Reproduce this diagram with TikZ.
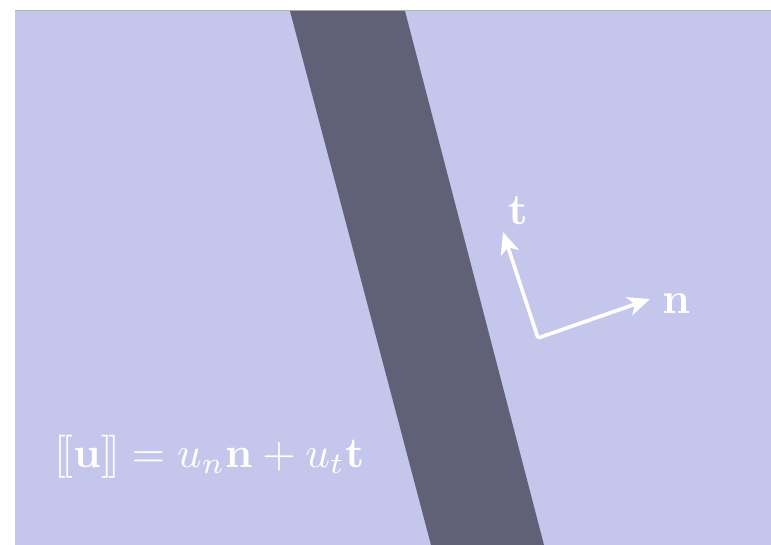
\documentclass[tikz,border=0pt]{standalone}
\usepackage{amsmath}
\usepackage{graphicx}
\usetikzlibrary{arrows.meta}
\definecolor{lav}{HTML}{C5C6EC}
\definecolor{band}{HTML}{606077}
\begin{document}
\begin{tikzpicture}[x=1pt,y=-1pt,
  vec/.style={white,line width=3.6pt,-{Stealth[length=22pt,width=19pt,inset=6pt]}},
  lbl/.style={white,inner sep=0pt}]
\useasboundingbox (0,0) rectangle (771,545);
\fill[white] (0,0) rectangle (771,545);
\fill[lav] (15,11) rectangle (771,545);
\draw[gray!60,line width=1.2pt] (15,10.5) -- (771,10.5);
\fill[band] (290,11) -- (405,11) -- (544,545) -- (431,545) -- cycle;
\coordinate (o) at (538,338);
\coordinate (tt) at (503,232);
\coordinate (nt) at (650,299);
\draw[vec] (o) -- (tt);
\draw[vec] (o) -- (nt);
\node[lbl,anchor=base] (tl) at (518,225) {\scalebox{4.4}{$\mathbf{t}$}};
\node[lbl,anchor=base west] (nl) at (662,313) {\scalebox{4.4}{$\mathbf{n}$}};
\node[lbl,anchor=base west] (eq) at (54,467)
  {\scalebox{4.3}{$[\mkern-2mu[\mathbf{u}]\mkern-2mu] = u_n\mathbf{n} + u_t\mathbf{t}$}};
\end{tikzpicture}
\end{document}
